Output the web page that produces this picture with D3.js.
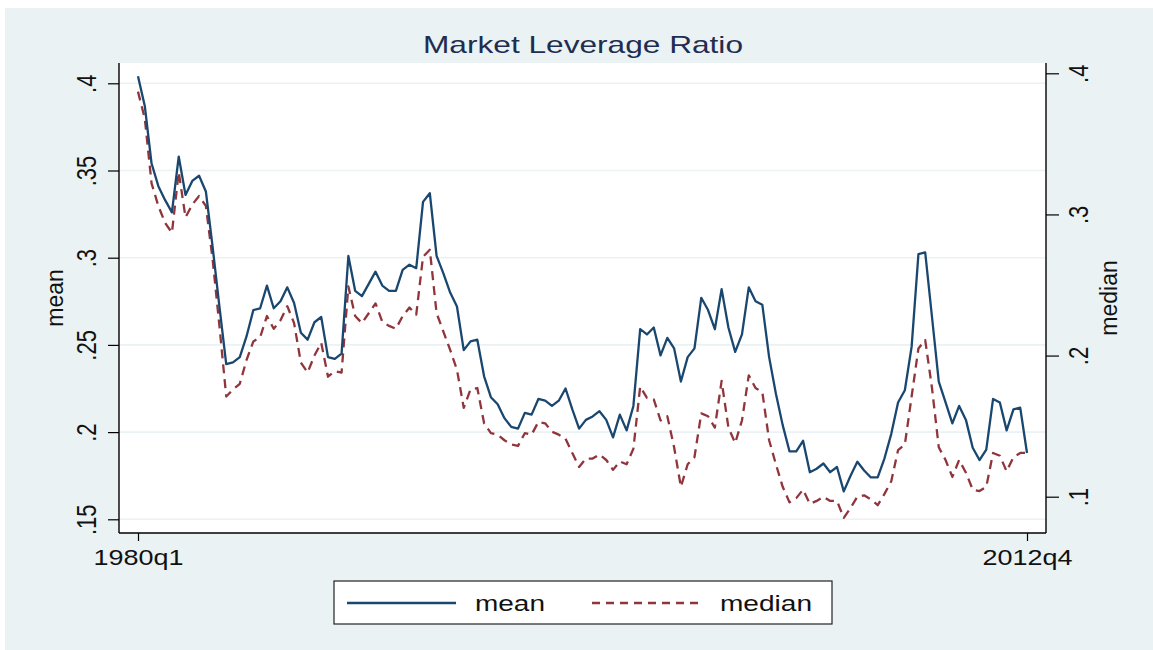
<!DOCTYPE html>
<html>
<head>
<meta charset="utf-8">
<script src="https://cdn.jsdelivr.net/npm/d3@7"></script>
<style>
  body { margin: 0; background: #fff; }
  svg text { font-family: "Liberation Sans", Arial, Helvetica, sans-serif; }
</style>
</head>
<body>
<svg width="1153" height="650"></svg>
<script>
// quarterly series, 1980q1 .. 2012q4
const startYear = 1980;

const meanValues = [
  .404, .387, .354, .341, .333, .326, .358, .336, .344, .347,
  .338, .306, .272, .239, .240, .243, .255, .270, .271, .284,
  .271, .275, .283, .274, .257, .253, .263, .266, .243, .242,
  .245, .301, .281, .278, .285, .292, .284, .281, .281, .293,
  .296, .294, .332, .337, .301, .291, .280, .272, .247, .252,
  .253, .232, .220, .216, .208, .203, .202, .211, .210, .219,
  .218, .215, .218, .225, .213, .202, .207, .209, .212, .207,
  .197, .210, .201, .215, .259, .256, .260, .244, .254, .248,
  .229, .243, .248, .277, .270, .259, .282, .260, .246, .256,
  .283, .275, .273, .243, .222, .204, .189, .189, .195, .177,
  .179, .182, .177, .180, .166, .175, .183, .178, .174, .174,
  .185, .199, .217, .224, .249, .302, .303, .266, .229, .217,
  .205, .215, .207, .191, .184, .190, .219, .217, .201, .213,
  .214, .188
];

const medianValues = [
  .387, .368, .322, .306, .294, .287, .330, .298, .307, .313,
  .306, .268, .221, .171, .176, .180, .197, .210, .213, .228,
  .219, .225, .235, .223, .195, .188, .200, .209, .185, .189,
  .188, .249, .228, .223, .230, .237, .224, .221, .219, .228,
  .234, .229, .270, .275, .230, .217, .204, .190, .163, .176,
  .177, .152, .145, .144, .140, .137, .136, .145, .144, .153,
  .152, .146, .144, .141, .131, .121, .127, .127, .130, .126,
  .119, .125, .123, .134, .178, .170, .169, .154, .157, .135,
  .107, .123, .128, .159, .157, .149, .182, .149, .138, .154,
  .186, .177, .174, .140, .123, .107, .096, .099, .105, .095,
  .097, .100, .097, .097, .085, .092, .100, .101, .098, .094,
  .102, .111, .133, .137, .171, .205, .211, .177, .135, .126,
  .114, .126, .117, .105, .104, .107, .131, .129, .118, .128,
  .131, .131
];

const meanTicks = [.15, .2, .25, .3, .35, .4];
const medianTicks = [.1, .2, .3, .4];
const xTickLabels = ['1980q1', '2012q4'];
const seriesNames = ['mean', 'median'];
const chartTitle = 'Market Leverage Ratio';

const svg = d3.select('svg');
const width = +svg.attr('width');
const height = +svg.attr('height');

const meanColor = '#1a476f';
const medianColor = '#90353b';
const bgColor = '#eaf2f3';
const plot = { left: 119, right: 1046, top: 63, bottom: 533 };
const fmt = d => String(d).replace(/^0/, '');

const quarters = meanValues.map((d, i) => `${startYear + Math.floor(i / 4)}q${i % 4 + 1}`);

const xScale = d3.scalePoint().domain(quarters).range([138, 1027]);
const yMean = d3.scaleLinear().domain([.15, .4]).range([519.3, 83.3]);
const yMedian = d3.scaleLinear().domain([.1, .4]).range([496.7, 73.3]);

// backgrounds
svg.append('rect')
  .attr('x', 5).attr('y', 8)
  .attr('width', width - 5).attr('height', height - 8)
  .attr('fill', bgColor);

svg.append('rect')
  .attr('x', plot.left).attr('y', plot.top)
  .attr('width', plot.right - plot.left).attr('height', plot.bottom - plot.top)
  .attr('fill', '#fff');

// gridlines follow the left (mean) axis
svg.append('g').selectAll('line')
  .data(meanTicks)
  .join('line')
  .attr('x1', plot.left).attr('x2', plot.right)
  .attr('y1', d => yMean(d)).attr('y2', d => yMean(d))
  .attr('stroke', bgColor)
  .attr('stroke-width', 1.6);

//Adding the series lines
const addLine = (values, yScale, color, dash) => {
  const line = d3.line()
    .x((d, i) => xScale(quarters[i]))
    .y(d => yScale(d));
  svg.append('path')
    .attr('d', line(values))
    .attr('fill', 'none')
    .attr('stroke', color)
    .attr('stroke-width', 2.3)
    .attr('stroke-linejoin', 'round')
    .attr('stroke-dasharray', dash);
};
addLine(medianValues, yMedian, medianColor, '9,6');
addLine(meanValues, yMean, meanColor, null);

//Axes
const styleRotated = (g, dx) => {
  g.select('.domain').remove();
  g.selectAll('.tick line').attr('stroke', '#000').attr('stroke-width', 1.2);
  g.selectAll('.tick text')
    .attr('x', null).attr('y', null).attr('dy', null)
    .attr('text-anchor', 'middle')
    .attr('font-size', 22)
    .attr('fill', '#111')
    .attr('transform', `translate(${dx},0) scale(1.25,1) rotate(-90)`);
};

svg.append('g')
  .attr('transform', `translate(${plot.left},0)`)
  .call(d3.axisLeft(yMean).tickValues(meanTicks).tickFormat(fmt).tickSize(11))
  .call(g => styleRotated(g, -23));

svg.append('g')
  .attr('transform', `translate(${plot.right},0)`)
  .call(d3.axisRight(yMedian).tickValues(medianTicks).tickFormat(fmt).tickSize(13))
  .call(g => styleRotated(g, 42));

const xAxisG = svg.append('g')
  .attr('transform', `translate(0,${plot.bottom})`)
  .call(d3.axisBottom(xScale).tickValues(xTickLabels).tickSize(8));
xAxisG.select('.domain').remove();
xAxisG.selectAll('.tick line').attr('stroke', '#000').attr('stroke-width', 1.2);
xAxisG.selectAll('.tick text')
  .attr('y', 32).attr('dy', null)
  .attr('font-size', 22)
  .attr('fill', '#111')
  .attr('textLength', 90)
  .attr('lengthAdjust', 'spacingAndGlyphs');

// plot frame: left, bottom, right
const frame = [
  [plot.left, plot.top, plot.left, plot.bottom],
  [plot.left, plot.bottom, plot.right, plot.bottom],
  [plot.right, plot.top, plot.right, plot.bottom]
];
svg.append('g').selectAll('line')
  .data(frame)
  .join('line')
  .attr('x1', d => d[0]).attr('y1', d => d[1])
  .attr('x2', d => d[2]).attr('y2', d => d[3])
  .attr('stroke', '#000')
  .attr('stroke-width', 1.4);

//Axis titles
svg.append('text')
  .attr('transform', 'translate(63,298) rotate(-90)')
  .attr('text-anchor', 'middle')
  .attr('font-size', 23)
  .attr('fill', '#111')
  .text(seriesNames[0]);

svg.append('text')
  .attr('transform', 'translate(1117,298) rotate(-90)')
  .attr('text-anchor', 'middle')
  .attr('font-size', 23)
  .attr('fill', '#111')
  .text(seriesNames[1]);

//Title
svg.append('text')
  .attr('x', 583).attr('y', 53)
  .attr('text-anchor', 'middle')
  .attr('font-size', 24)
  .attr('fill', '#1f2d50')
  .attr('textLength', 320)
  .attr('lengthAdjust', 'spacingAndGlyphs')
  .text(chartTitle);

//Legend
const legend = svg.append('g');
legend.append('rect')
  .attr('x', 334).attr('y', 581)
  .attr('width', 498).attr('height', 43)
  .attr('fill', '#fff')
  .attr('stroke', '#222')
  .attr('stroke-width', 1.2);

const legendItems = [
  { name: seriesNames[0], color: meanColor, dash: null, x: 347, tx: 475, tl: 70 },
  { name: seriesNames[1], color: medianColor, dash: '8,6', x: 592, tx: 720, tl: 92 }
];
legendItems.forEach(item => {
  legend.append('line')
    .attr('x1', item.x).attr('x2', item.x + 109)
    .attr('y1', 603).attr('y2', 603)
    .attr('stroke', item.color)
    .attr('stroke-width', 2.3)
    .attr('stroke-dasharray', item.dash);
  legend.append('text')
    .attr('x', item.tx).attr('y', 611)
    .attr('font-size', 22)
    .attr('fill', '#111')
    .attr('textLength', item.tl)
    .attr('lengthAdjust', 'spacingAndGlyphs')
    .text(item.name);
});
</script>
</body>
</html>
